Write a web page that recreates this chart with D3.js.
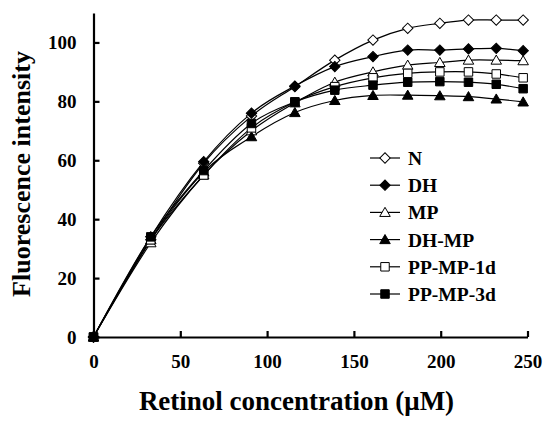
<!DOCTYPE html>
<html>
<head>
<meta charset="utf-8">
<script src="https://cdn.jsdelivr.net/npm/d3@7"></script>
<style>
  body { margin: 0; background: #fff; }
</style>
</head>
<body>
<div id="chart"></div>
<script>
// Data
const concentrations = [0, 33, 63.5, 91, 116, 139, 161, 181, 199.5, 216, 232, 247.5]
const seriesNames = ['N', 'DH', 'MP', 'DH-MP', 'PP-MP-1d', 'PP-MP-3d']
const valuesN = [0, 33, 59, 75, 85, 94, 100.8, 104.8, 106.5, 107.6, 107.6, 107.6]
const valuesDH = [0, 34, 59.5, 76, 85.2, 91.8, 95.2, 97.4, 97.4, 97.8, 98, 97.2]
const valuesMP = [0, 32, 55, 70, 79.5, 86.5, 90, 92.3, 93.2, 94, 94, 93.8]
const valuesDHMP = [0, 33, 56, 68, 76.2, 80.3, 82, 82.1, 81.9, 81.6, 80.8, 79.8]
const valuesPP1d = [0, 33, 55, 71, 79.8, 85, 88, 89.5, 90, 90, 89.3, 88]
const valuesPP3d = [0, 34, 56.5, 72.5, 79.8, 83.8, 85.5, 86.5, 86.7, 86.5, 85.8, 84.3]
const xTicks = [0, 50, 100, 150, 200, 250]
const yTicks = [0, 20, 40, 60, 80, 100]

const seriesValues = [valuesN, valuesDH, valuesMP, valuesDHMP, valuesPP1d, valuesPP3d]
// marker style per series: shape + filled or not
const markers = [
  { shape: 'diamond', filled: false },
  { shape: 'diamond', filled: true },
  { shape: 'triangle', filled: false },
  { shape: 'triangle', filled: true },
  { shape: 'square', filled: false },
  { shape: 'square', filled: true },
]

const FONT = '"Times New Roman", "Liberation Serif", "DejaVu Serif", serif'

const width = 545
const height = 422
const margin = { left: 93.5, right: 17.5, top: 13, bottom: 85 }

const svg = d3.select('#chart').append('svg')
  .attr('width', width)
  .attr('height', height)

const xScale = d3.scaleLinear().domain([0, 250]).range([margin.left, width - margin.right])
const yScale = d3.scaleLinear().domain([0, 110]).range([height - margin.bottom, margin.top])

// axes, ticks pointing inward
const xAxis = d3.axisBottom(xScale).tickValues(xTicks).tickSize(-6).tickSizeOuter(0).tickPadding(18)
const yAxis = d3.axisLeft(yScale).tickValues(yTicks).tickSize(-6).tickSizeOuter(0).tickPadding(17)

const gx = svg.append('g')
  .attr('transform', `translate(0, ${yScale(0)})`)
  .call(xAxis)
const gy = svg.append('g')
  .attr('transform', `translate(${xScale(0)}, 0)`)
  .call(yAxis)

;[gx, gy].forEach(g => {
  g.attr('font-family', FONT)
  g.select('.domain').attr('stroke', '#000').attr('stroke-width', 2.2)
  g.selectAll('.tick line').attr('stroke', '#000').attr('stroke-width', 2.2)
  g.selectAll('.tick text')
    .style('font-family', FONT)
    .style('font-weight', 'bold')
    .style('font-size', '19px')
    .attr('fill', '#000')
})

// symbol generator
function symbolPath(shape) {
  if (shape === 'diamond') return d3.symbol(d3.symbolSquare, 54)()
  if (shape === 'triangle') return d3.symbol(d3.symbolTriangle, 48)()
  return d3.symbol(d3.symbolSquare, 72)()
}
function symbolTransform(shape, x, y) {
  if (shape === 'diamond') return `translate(${x},${y}) rotate(45)`
  if (shape === 'triangle') return `translate(${x},${y + 1})`
  return `translate(${x},${y})`
}

const line = d3.line()
  .x((d, i) => xScale(concentrations[i]))
  .y(d => yScale(d))
  .curve(d3.curveCardinal.tension(0))

const plot = svg.append('g')

seriesValues.forEach((vals, s) => {
  plot.append('path')
    .datum(vals)
    .attr('d', line)
    .attr('fill', 'none')
    .attr('stroke', '#000')
    .attr('stroke-width', 1.2)
})

seriesValues.forEach((vals, s) => {
  const m = markers[s]
  plot.selectAll(null)
    .data(vals)
    .join('path')
    .attr('d', symbolPath(m.shape))
    .attr('transform', (d, i) => symbolTransform(m.shape, xScale(concentrations[i]), yScale(d)))
    .attr('fill', m.filled ? '#000' : '#fff')
    .attr('stroke', '#000')
    .attr('stroke-width', 1)
})

// legend
const legend = svg.append('g').attr('transform', 'translate(370, 158)')
const rowGap = 27.2
seriesNames.forEach((name, s) => {
  const m = markers[s]
  const row = legend.append('g').attr('transform', `translate(0, ${s * rowGap})`)
  row.append('line')
    .attr('x1', 0).attr('x2', 30)
    .attr('stroke', '#000').attr('stroke-width', 1.2)
  row.append('path')
    .attr('d', symbolPath(m.shape))
    .attr('transform', symbolTransform(m.shape, 15, 0))
    .attr('fill', m.filled ? '#000' : '#fff')
    .attr('stroke', '#000')
  row.append('text')
    .attr('x', 38)
    .attr('y', 7)
    .style('font-family', FONT)
    .style('font-weight', 'bold')
    .style('font-size', '19.5px')
    .text(name)
})

// axis titles
svg.append('text')
  .attr('x', (xScale(0) + xScale(250)) / 2 - 14)
  .attr('y', 410)
  .attr('text-anchor', 'middle')
  .style('font-family', FONT)
  .style('font-weight', 'bold')
  .style('font-size', '27px')
  .text('Retinol concentration (\u03BCM)')

svg.append('text')
  .attr('transform', `translate(30, ${174}) rotate(-90)`)
  .attr('text-anchor', 'middle')
  .style('font-family', FONT)
  .style('font-weight', 'bold')
  .style('font-size', '26px')
  .text('Fluorescence intensity')
</script>
</body>
</html>
